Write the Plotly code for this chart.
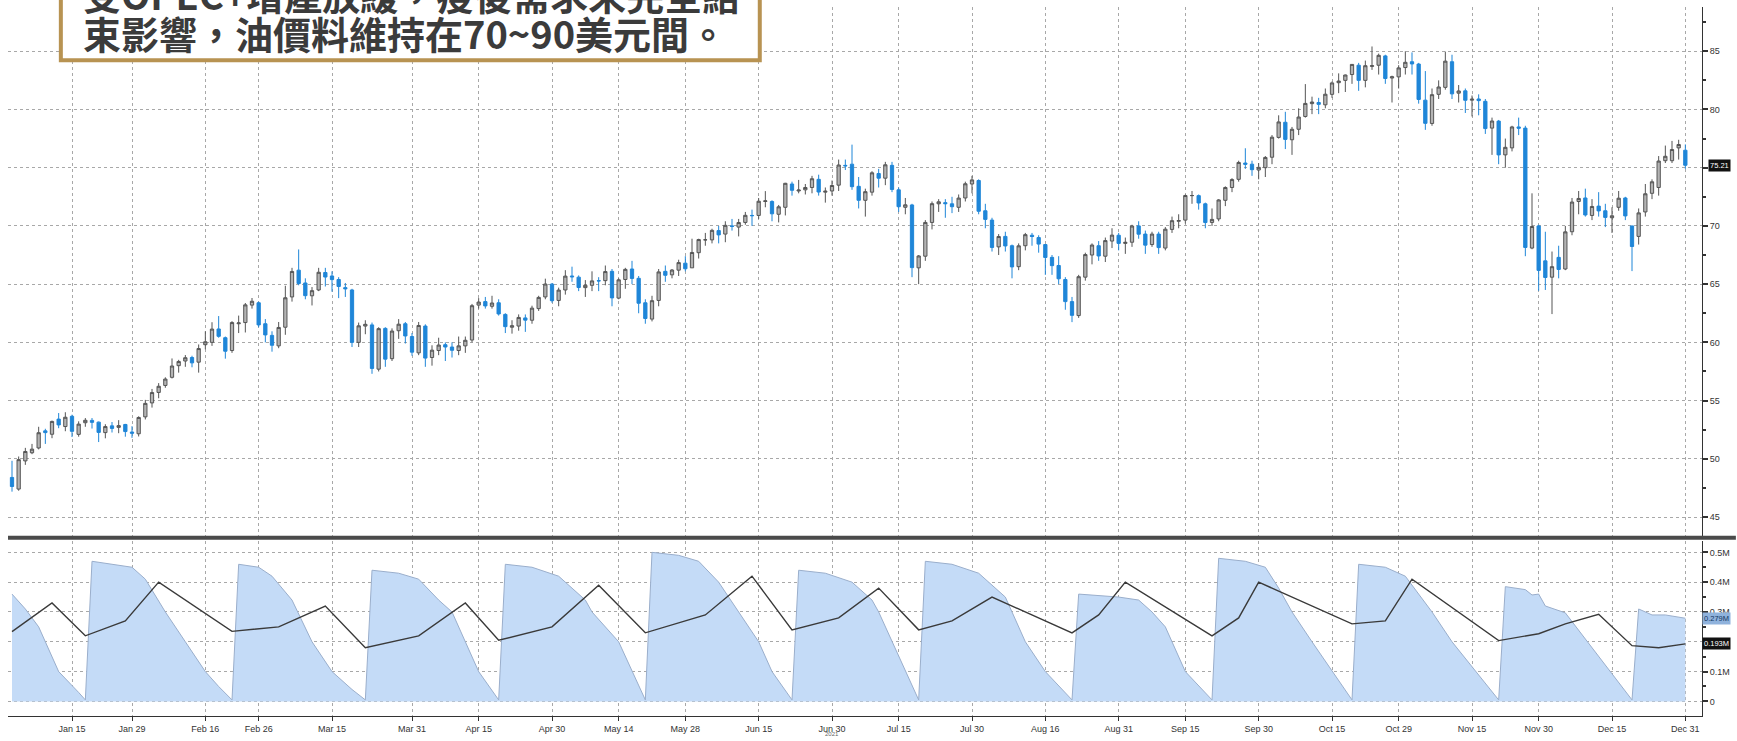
import plotly.graph_objects as go
from plotly.subplots import make_subplots

# ---------------- data ----------------
trading_days = {
    1: [4, 5, 6, 7, 8, 11, 12, 13, 14, 15, 19, 20, 21, 22, 25, 26, 27, 28, 29],
    2: [1, 2, 3, 4, 5, 8, 9, 10, 11, 12, 16, 17, 18, 19, 22, 23, 24, 25, 26],
    3: [1, 2, 3, 4, 5, 8, 9, 10, 11, 12, 15, 16, 17, 18, 19, 22, 23, 24, 25, 26, 29, 30, 31],
    4: [1, 5, 6, 7, 8, 9, 12, 13, 14, 15, 16, 19, 20, 21, 22, 23, 26, 27, 28, 29, 30],
    5: [3, 4, 5, 6, 7, 10, 11, 12, 13, 14, 17, 18, 19, 20, 21, 24, 25, 26, 27, 28],
    6: [1, 2, 3, 4, 7, 8, 9, 10, 11, 14, 15, 16, 17, 18, 21, 22, 23, 24, 25, 28, 29, 30],
    7: [1, 2, 6, 7, 8, 9, 12, 13, 14, 15, 16, 19, 20, 21, 22, 23, 26, 27, 28, 29, 30],
    8: [2, 3, 4, 5, 6, 9, 10, 11, 12, 13, 16, 17, 18, 19, 20, 23, 24, 25, 26, 27, 30, 31],
    9: [1, 2, 3, 7, 8, 9, 10, 13, 14, 15, 16, 17, 20, 21, 22, 23, 24, 27, 28, 29, 30],
    10: [1, 4, 5, 6, 7, 8, 11, 12, 13, 14, 15, 18, 19, 20, 21, 22, 25, 26, 27, 28, 29],
    11: [1, 2, 3, 4, 5, 8, 9, 10, 11, 12, 15, 16, 17, 18, 19, 22, 23, 24, 26, 29, 30],
    12: [1, 2, 3, 6, 7, 8, 9, 10, 13, 14, 15, 16, 17, 20, 21, 22, 23, 27, 28, 29, 30, 31],
}
dates = [f"2021-{m:02d}-{d:02d}" for m, days in trading_days.items() for d in days]

opens = [
    48.40, 47.40, 49.82, 50.52, 50.93, 52.40, 52.11, 53.41, 52.77, 53.65, 52.10, 53.10, 53.30, 53.15, 52.25, 52.83, 52.70, 52.95, 52.30,
    52.15, 53.60, 54.80, 55.70, 56.30, 57.00, 58.00, 58.40, 58.70, 58.30, 59.80, 60.00, 61.15, 60.40, 59.30, 61.60, 61.70, 63.20, 63.40,
    61.60, 60.60, 59.70, 61.30, 63.90, 66.20, 65.10, 64.00, 64.50, 66.00, 65.70, 65.40, 64.70, 64.50, 60.00, 61.40, 61.50, 57.70, 61.20, 58.60, 61.00, 61.60, 60.50,
    59.10, 61.40, 58.70, 59.30, 59.80, 59.60, 59.30, 59.70, 60.20, 63.20, 63.50, 63.10, 63.40, 62.40, 61.30, 61.40, 62.10, 61.90, 62.90, 63.90, 65.00,
    63.60, 64.50, 65.70, 65.60, 64.70, 64.90, 65.30, 65.30, 66.10, 63.80, 65.40, 66.30, 65.50, 63.40, 62.00, 63.60, 66.10, 65.80, 66.20, 66.80,
    66.40, 67.70, 68.80, 68.80, 69.60, 69.30, 70.00, 69.90, 70.30, 70.90, 70.90, 72.10, 72.10, 71.00, 71.60, 73.60, 73.00, 73.10, 73.30, 74.00, 72.90, 73.00,
    73.50, 75.20, 75.30, 73.40, 72.20, 72.90, 74.50, 74.10, 75.20, 73.10, 71.60, 71.80, 66.40, 67.40, 70.30, 71.90, 72.00, 71.90, 71.60, 72.40, 73.60,
    73.90, 71.30, 70.50, 68.20, 69.10, 68.30, 66.50, 68.30, 69.20, 69.00, 68.40, 67.30, 66.60, 65.40, 63.50, 62.30, 65.60, 67.50, 68.30, 67.40, 68.70, 69.20,
    68.50, 68.60, 70.00, 69.30, 68.40, 69.30, 68.10, 69.70, 70.40, 70.50, 72.60, 72.60, 71.90, 70.30, 70.60, 72.20, 73.30, 74.00, 75.40, 75.30, 74.80,
    75.00, 75.90, 77.60, 78.90, 77.40, 78.30, 79.40, 80.50, 80.60, 80.40, 81.30, 82.30, 82.50, 83.00, 83.80, 82.50, 83.70, 83.80, 84.60, 82.70, 82.80,
    83.60, 84.10, 83.90, 80.80, 78.80, 81.30, 81.90, 84.10, 81.40, 81.60, 80.80, 80.90, 80.70, 78.40, 79.00, 76.10, 76.70, 78.50, 78.40, 68.10, 70.00,
    67.00, 65.60, 67.30, 66.30, 69.50, 72.10, 72.40, 70.90, 71.70, 71.30, 70.70, 71.60, 72.40, 70.00, 69.10, 71.20, 72.80, 73.30, 75.60, 75.60, 76.70, 76.50,
]
highs = [
    49.83, 50.20, 50.94, 51.28, 52.75, 52.58, 53.28, 53.93, 54.00, 53.79, 53.22, 53.50, 53.50, 53.20, 52.97, 53.16, 53.32, 53.00, 52.80,
    53.65, 55.06, 56.00, 56.50, 57.00, 58.62, 58.50, 58.91, 58.85, 59.82, 60.95, 61.73, 62.26, 60.50, 61.82, 62.30, 63.38, 63.81, 63.50,
    62.00, 60.95, 61.75, 64.86, 66.40, 67.98, 65.50, 64.75, 66.40, 66.40, 66.10, 65.60, 65.10, 64.60, 61.70, 61.90, 61.70, 61.30, 61.30, 61.20, 62.00, 61.75, 60.80,
    61.75, 61.55, 59.75, 60.40, 60.00, 60.00, 60.50, 60.50, 63.30, 63.80, 63.90, 64.00, 63.70, 62.50, 61.90, 62.40, 62.40, 63.15, 64.00, 65.47, 65.10,
    64.70, 66.20, 66.50, 65.75, 65.35, 66.10, 65.60, 66.60, 66.30, 65.50, 66.40, 67.00, 65.70, 63.70, 64.00, 66.30, 66.60, 66.30, 67.10, 67.40,
    68.90, 68.90, 69.40, 69.76, 70.00, 70.40, 70.60, 70.60, 71.20, 71.40, 72.40, 72.99, 72.20, 71.80, 73.70, 73.80, 73.95, 73.60, 74.30, 74.40, 73.30, 73.90,
    75.70, 75.70, 76.98, 74.20, 73.20, 74.70, 74.90, 75.50, 75.50, 73.30, 72.40, 71.90, 67.50, 70.50, 72.10, 72.30, 72.30, 72.50, 72.70, 73.80, 74.30,
    74.00, 71.90, 70.70, 69.30, 69.50, 68.40, 68.50, 69.40, 69.40, 69.20, 68.40, 67.50, 67.40, 65.60, 63.90, 65.80, 67.70, 68.50, 68.70, 69.00, 69.80, 69.40,
    69.00, 70.10, 70.40, 69.60, 69.50, 69.50, 69.90, 70.80, 71.00, 72.70, 73.00, 72.70, 72.00, 71.50, 72.30, 73.40, 74.10, 75.60, 76.67, 75.60, 75.40,
    76.00, 77.80, 79.50, 79.80, 78.50, 80.10, 82.18, 81.10, 81.00, 81.80, 82.40, 83.10, 83.00, 83.90, 84.00, 84.20, 85.41, 84.80, 84.70, 82.90, 83.80,
    85.00, 84.90, 84.00, 83.30, 81.80, 82.50, 84.97, 84.70, 82.10, 81.80, 81.20, 81.30, 80.90, 79.30, 79.10, 77.50, 78.60, 79.30, 78.60, 72.80, 70.10,
    69.50, 67.80, 68.30, 70.00, 72.40, 73.00, 73.20, 72.30, 72.90, 71.90, 71.60, 73.00, 72.50, 70.00, 71.50, 73.60, 74.00, 76.00, 76.90, 77.30, 77.40, 77.00,
]
lows = [
    47.18, 47.26, 49.48, 50.40, 50.81, 51.28, 51.77, 52.63, 52.37, 51.87, 51.90, 52.75, 52.60, 51.44, 51.76, 52.26, 52.20, 51.90, 51.80,
    51.92, 53.38, 54.40, 55.20, 56.10, 56.90, 57.40, 57.90, 57.86, 57.40, 59.40, 59.70, 60.40, 58.60, 59.10, 60.80, 60.85, 62.90, 61.30,
    60.00, 59.20, 59.50, 60.65, 63.50, 64.90, 63.70, 63.17, 64.40, 64.80, 64.35, 63.80, 63.90, 59.60, 59.60, 60.70, 57.30, 57.50, 57.90, 58.40, 60.30, 59.90, 58.85,
    58.90, 57.90, 58.00, 58.90, 58.40, 58.70, 58.90, 59.10, 60.00, 62.90, 62.90, 62.90, 62.30, 60.80, 60.75, 61.00, 60.90, 61.60, 62.70, 63.70, 63.40,
    63.10, 64.10, 65.20, 64.40, 63.90, 64.40, 64.40, 64.90, 63.10, 63.70, 64.60, 65.00, 62.50, 61.60, 61.80, 63.10, 65.20, 65.50, 65.70, 66.10,
    66.40, 67.20, 68.30, 68.50, 68.50, 68.60, 69.60, 69.10, 70.10, 70.00, 70.60, 71.60, 70.40, 70.30, 70.90, 72.60, 72.80, 72.70, 72.80, 72.60, 72.00, 72.60,
    73.00, 74.80, 73.10, 71.50, 70.80, 72.60, 73.30, 73.50, 72.90, 71.20, 71.00, 65.60, 65.00, 67.00, 69.70, 71.20, 70.70, 71.10, 71.20, 72.10, 72.80,
    71.00, 69.80, 67.80, 67.50, 67.80, 65.50, 66.20, 67.90, 68.30, 67.70, 65.80, 65.80, 65.00, 62.80, 61.74, 62.10, 65.30, 66.70, 67.00, 66.90, 68.10, 67.90,
    67.60, 68.20, 68.90, 67.60, 68.20, 67.60, 67.90, 69.40, 69.80, 70.20, 71.90, 71.40, 69.80, 70.00, 70.40, 71.70, 72.90, 73.80, 74.90, 74.30, 74.00,
    74.20, 75.30, 77.50, 76.60, 76.10, 77.80, 79.30, 79.60, 79.60, 80.10, 81.00, 81.40, 81.50, 82.20, 81.60, 81.90, 83.40, 83.00, 82.20, 80.60, 81.80,
    83.00, 83.00, 80.50, 78.25, 78.60, 80.90, 81.70, 80.90, 80.60, 79.70, 79.40, 79.50, 77.90, 76.10, 75.30, 75.00, 76.40, 77.80, 67.40, 68.00, 64.43,
    64.50, 62.43, 65.50, 66.20, 69.20, 71.00, 70.80, 70.50, 70.80, 69.90, 69.40, 71.30, 70.50, 66.12, 68.40, 70.80, 72.30, 72.60, 75.40, 75.40, 75.70, 74.90,
]
closes = [
    47.62, 49.93, 50.63, 50.83, 52.24, 52.25, 53.21, 52.91, 53.57, 52.36, 52.98, 53.31, 53.13, 52.27, 52.77, 52.61, 52.85, 52.34, 52.20,
    53.55, 54.76, 55.69, 56.23, 56.85, 57.97, 58.36, 58.68, 58.24, 59.47, 60.05, 61.14, 60.52, 59.24, 61.70, 61.67, 63.22, 63.53, 61.50,
    60.64, 59.75, 61.28, 63.83, 66.09, 65.05, 64.01, 64.44, 66.02, 65.61, 65.39, 64.80, 64.60, 60.00, 61.42, 61.55, 57.76, 61.18, 58.56, 60.97, 61.56, 60.55, 59.16,
    61.45, 58.65, 59.33, 59.77, 59.60, 59.32, 59.70, 60.18, 63.15, 63.46, 63.13, 63.38, 62.44, 61.35, 61.43, 62.14, 61.91, 62.94, 63.86, 65.01, 63.58,
    64.49, 65.69, 65.63, 64.71, 64.90, 65.28, 65.28, 66.08, 63.82, 65.37, 66.27, 65.49, 63.36, 62.05, 63.58, 66.05, 65.76, 66.21, 66.85, 66.32,
    67.72, 68.83, 68.81, 69.62, 69.23, 70.05, 69.96, 70.29, 70.91, 70.88, 72.12, 72.15, 71.04, 71.64, 73.66, 73.06, 73.08, 73.30, 74.05, 72.91, 72.98, 73.47,
    75.23, 75.16, 73.37, 72.20, 72.94, 74.56, 74.10, 75.25, 73.13, 71.65, 71.81, 66.42, 67.42, 70.30, 71.91, 72.07, 71.91, 71.65, 72.39, 73.62, 73.95,
    71.26, 70.56, 68.15, 69.09, 68.28, 66.48, 68.29, 69.25, 69.09, 68.44, 67.29, 66.59, 65.46, 63.50, 62.32, 65.64, 67.54, 68.36, 67.42, 68.74, 69.21, 68.50,
    68.59, 69.99, 69.29, 68.35, 69.30, 68.14, 69.72, 70.45, 70.46, 72.61, 72.61, 71.97, 70.29, 70.56, 72.23, 73.30, 73.98, 75.45, 75.29, 74.83, 75.03,
    75.88, 77.62, 78.93, 77.43, 78.30, 79.35, 80.52, 80.64, 80.44, 81.31, 82.28, 82.44, 82.96, 83.87, 82.50, 83.76, 83.76, 84.65, 82.66, 82.81, 83.57,
    84.05, 83.91, 80.86, 78.81, 81.27, 81.93, 84.15, 81.34, 81.59, 80.79, 80.88, 80.76, 78.36, 79.01, 76.10, 76.75, 78.50, 78.39, 68.15, 69.95, 66.18,
    65.57, 66.50, 66.26, 69.49, 72.05, 72.36, 70.94, 71.67, 71.29, 70.73, 70.87, 72.38, 70.86, 68.23, 71.12, 72.76, 73.79, 75.57, 75.98, 76.56, 76.99, 75.21,
]

# lower panel: front-contract open interest (millions) and its average line
oi_dates = [
    "2021-01-04", "2021-01-06", "2021-01-08", "2021-01-13", "2021-01-19", "2021-01-20",
    "2021-01-21", "2021-01-26", "2021-01-29", "2021-02-02", "2021-02-05", "2021-02-10", "2021-02-16", "2021-02-18", "2021-02-22",
    "2021-02-23", "2021-02-26", "2021-03-02", "2021-03-05", "2021-03-10", "2021-03-15", "2021-03-18", "2021-03-22",
    "2021-03-23", "2021-03-29", "2021-04-01", "2021-04-07", "2021-04-09", "2021-04-15", "2021-04-20",
    "2021-04-21", "2021-04-27", "2021-05-03", "2021-05-07", "2021-05-10", "2021-05-14", "2021-05-18", "2021-05-20",
    "2021-05-21", "2021-05-27", "2021-06-02", "2021-06-07", "2021-06-10", "2021-06-15", "2021-06-17", "2021-06-22",
    "2021-06-23", "2021-06-29", "2021-07-06", "2021-07-09", "2021-07-12", "2021-07-14", "2021-07-16", "2021-07-20",
    "2021-07-21", "2021-07-27", "2021-08-02", "2021-08-06", "2021-08-09", "2021-08-11", "2021-08-16", "2021-08-20",
    "2021-08-23", "2021-08-31", "2021-09-03", "2021-09-08", "2021-09-10", "2021-09-15", "2021-09-21",
    "2021-09-22", "2021-09-28", "2021-10-01", "2021-10-05", "2021-10-07", "2021-10-12", "2021-10-20",
    "2021-10-21", "2021-10-27", "2021-11-01", "2021-11-03", "2021-11-05", "2021-11-10", "2021-11-19",
    "2021-11-22", "2021-11-26", "2021-11-29", "2021-11-30", "2021-12-01", "2021-12-06", "2021-12-20",
    "2021-12-21", "2021-12-23", "2021-12-28", "2021-12-31",
]
oi_values = [
    0.36, 0.31, 0.25, 0.10, 0.03, 0.005,
    0.47, 0.46, 0.45, 0.41, 0.30, 0.20, 0.10, 0.05, 0.005,
    0.46, 0.45, 0.42, 0.34, 0.20, 0.10, 0.04, 0.005,
    0.44, 0.43, 0.41, 0.34, 0.30, 0.10, 0.005,
    0.46, 0.45, 0.42, 0.34, 0.30, 0.20, 0.10, 0.005,
    0.50, 0.49, 0.47, 0.40, 0.30, 0.20, 0.10, 0.005,
    0.44, 0.43, 0.40, 0.34, 0.30, 0.20, 0.10, 0.005,
    0.47, 0.46, 0.43, 0.35, 0.30, 0.20, 0.10, 0.005,
    0.36, 0.35, 0.34, 0.30, 0.25, 0.10, 0.005,
    0.48, 0.47, 0.45, 0.38, 0.30, 0.20, 0.005,
    0.46, 0.45, 0.42, 0.36, 0.30, 0.20, 0.005,
    0.385, 0.375, 0.357, 0.36, 0.32, 0.297, 0.005,
    0.31, 0.29, 0.29, 0.279,
]
avg_dates = [
    "2021-01-04", "2021-01-12", "2021-01-20", "2021-01-28", "2021-02-04", "2021-02-22",
    "2021-03-03", "2021-03-12", "2021-03-22", "2021-04-01", "2021-04-13", "2021-04-20",
    "2021-04-30", "2021-05-11", "2021-05-20", "2021-06-03", "2021-06-14", "2021-06-22",
    "2021-07-01", "2021-07-12", "2021-07-20", "2021-07-27", "2021-08-04", "2021-08-20",
    "2021-08-26", "2021-09-01", "2021-09-21", "2021-09-27", "2021-09-30", "2021-10-20",
    "2021-10-27", "2021-11-02", "2021-11-19", "2021-11-30", "2021-12-06", "2021-12-13",
    "2021-12-20", "2021-12-27", "2021-12-31",
]
avg_values = [
    0.234, 0.33, 0.22, 0.27, 0.40, 0.235,
    0.25, 0.32, 0.18, 0.22, 0.33, 0.205,
    0.25, 0.39, 0.23, 0.29, 0.42, 0.24,
    0.28, 0.38, 0.24, 0.27, 0.35, 0.23,
    0.29, 0.40, 0.22, 0.28, 0.40, 0.26,
    0.27, 0.41, 0.204, 0.227, 0.26, 0.292,
    0.187, 0.18, 0.193,
]

tick_dates = [
    "2021-01-15", "2021-01-29", "2021-02-16", "2021-02-26", "2021-03-15", "2021-03-31",
    "2021-04-15", "2021-04-30", "2021-05-14", "2021-05-28", "2021-06-15", "2021-06-30",
    "2021-07-15", "2021-07-30", "2021-08-16", "2021-08-31", "2021-09-15", "2021-09-30",
    "2021-10-15", "2021-10-29", "2021-11-15", "2021-11-30", "2021-12-15", "2021-12-31",
]
tick_text = [
    "Jan 15", "Jan 29", "Feb 16", "Feb 26", "Mar 15", "Mar 31", "Apr 15", "Apr 30",
    "May 14", "May 28", "Jun 15", "Jun 30", "Jul 15", "Jul 30", "Aug 16", "Aug 31",
    "Sep 15", "Sep 30", "Oct 15", "Oct 29", "Nov 15", "Nov 30", "Dec 15", "Dec 31",
]
price_ticks = [45, 50, 55, 60, 65, 70, 75, 80, 85]
price_tick_text = ["45", "50", "55", "60", "65", "70", "", "80", "85"]  # 75 hidden behind last-price tag
oi_ticks = [0, 0.1, 0.2, 0.3, 0.4, 0.5]
oi_tick_text = ["0", "0.1M", "", "0.3M", "0.4M", "0.5M"]  # 0.2M hidden behind tag

headline = ["受OPEC+增產放緩，疫後需求未完全結", "束影響，油價料維持在70~90美元間。"]

# ---------------- figure ----------------
W, H = 1737, 741
ML, MR, MT, MB = 8, 30, 7, 14
PW, PH = W - ML - MR, H - MT - MB
GRID = "#a8a8a8"
AXC = "#333333"
FONT = "Liberation Sans"


def px_x(px):
    return (px - ML) / PW


def px_y(py):
    return 1 - (py - MT) / PH


fig = make_subplots(rows=2, cols=1, shared_xaxes=True, vertical_spacing=0.004)

fig.add_trace(go.Candlestick(
    x=dates, open=opens, high=highs, low=lows, close=closes,
    increasing=dict(line=dict(color="#555555", width=1), fillcolor="#b4b4b4"),
    decreasing=dict(line=dict(color="#1f86d8", width=1), fillcolor="#1f86d8"),
    whiskerwidth=0, showlegend=False, hoverinfo="skip",
), row=1, col=1)

fig.add_trace(go.Scatter(
    x=oi_dates, y=oi_values, mode="lines", fill="tozeroy",
    line=dict(color="#9aaecb", width=1), fillcolor="#c4dbf7",
    showlegend=False, hoverinfo="skip",
), row=2, col=1)
fig.add_trace(go.Scatter(
    x=avg_dates, y=avg_values, mode="lines",
    line=dict(color="#3a3a3a", width=1.4),
    showlegend=False, hoverinfo="skip",
), row=2, col=1)

xcommon = dict(
    type="category", categoryorder="array", categoryarray=dates,
    range=[-0.6, len(dates) + 1.5],
    tickmode="array", tickvals=tick_dates, ticktext=tick_text,
    showgrid=True, gridcolor=GRID, griddash="dot", gridwidth=1,
    zeroline=False, rangeslider=dict(visible=False),
)
fig.update_xaxes(**xcommon)
fig.update_xaxes(showticklabels=False, ticks="", row=1, col=1)
fig.update_xaxes(showticklabels=True, ticks="outside", ticklen=4, tickcolor=AXC,
                 showline=True, linecolor=AXC, linewidth=1,
                 tickfont=dict(family=FONT, size=9, color="#333333"), row=2, col=1)

fig.update_layout(
    yaxis=dict(domain=[px_y(546), 1.0], range=[43.22, 88.8], side="right",
               tickmode="array", tickvals=price_ticks, ticktext=price_tick_text,
               showgrid=True, gridcolor=GRID, griddash="dot", gridwidth=1,
               showline=True, linecolor=AXC, linewidth=1, ticks="outside", ticklen=5,
               tickcolor=AXC, tickwidth=2, zeroline=False,
               minor=dict(dtick=2.5, ticks="outside", ticklen=3, tickcolor=AXC, showgrid=False),
               tickfont=dict(family=FONT, size=9, color="#333333")),
    yaxis2=dict(domain=[0.0, px_y(549)], range=[-0.049, 0.539], side="right",
                tickmode="array", tickvals=oi_ticks, ticktext=oi_tick_text,
                showgrid=True, gridcolor=GRID, griddash="dot", gridwidth=1,
                showline=True, linecolor=AXC, linewidth=1, ticks="outside", ticklen=5,
                tickcolor=AXC, tickwidth=2, zeroline=False,
                minor=dict(dtick=0.05, ticks="outside", ticklen=3, tickcolor=AXC, showgrid=False),
                tickfont=dict(family=FONT, size=9, color="#333333")),
    width=W, height=H,
    margin=dict(l=ML, r=MR, t=MT, b=MB, pad=0),
    paper_bgcolor="white", plot_bgcolor="white",
    showlegend=False,
)

# separator between panels
fig.add_shape(type="line", xref="paper", yref="paper",
              x0=0.0, x1=1.02, y0=px_y(546), y1=px_y(546),
              line=dict(color="#4a4a4a", width=4))

# last-value tags (right-aligned to the picture edge)
TAGFONT = dict(family=FONT, size=7.5)
tag_x = px_x(1736)
fig.add_annotation(xref="paper", yref="y", x=tag_x, y=closes[-1], xanchor="right", yanchor="middle",
                   text=f"{closes[-1]:.2f}", showarrow=False, bgcolor="#111111",
                   font=dict(TAGFONT, color="white"), borderpad=1)
fig.add_annotation(xref="paper", yref="y2", x=tag_x, y=oi_values[-1], xanchor="right", yanchor="middle",
                   text=f"{oi_values[-1]:.3f}M", showarrow=False, bgcolor="#8fb2dc",
                   font=dict(TAGFONT, color="#12345e"), borderpad=1)
fig.add_annotation(xref="paper", yref="y2", x=tag_x, y=avg_values[-1], xanchor="right", yanchor="middle",
                   text=f"{avg_values[-1]:.3f}M", showarrow=False, bgcolor="#111111",
                   font=dict(TAGFONT, color="white"), borderpad=1)
fig.add_annotation(xref="x2", yref="paper", x="2021-06-30", y=px_y(740),
                   xanchor="center", yanchor="top", text="2021", showarrow=False,
                   font=dict(family=FONT, size=6, color="#666666"))

# headline box (its first line runs past the top edge, as in the source)
fig.add_shape(type="rect", xref="paper", yref="paper",
              x0=px_x(61), x1=px_x(762), y0=px_y(61), y1=px_y(-20),
              line=dict(color="#b89352", width=4), fillcolor="white", layer="above")
for i, line in enumerate(headline):
    fig.add_annotation(xref="paper", yref="paper", x=px_x(81), y=px_y(-7 + 40 * i),
                       xanchor="left", yanchor="middle", align="left",
                       text=line, showarrow=False,
                       font=dict(family="Noto Sans CJK TC", size=38, color="#3b3b3b", weight="bold"))

# page body margin removed so the figure sits at the window's top-left corner
fig.write_html("out.html", config={"displayModeBar": False},
               post_script="document.body.style.margin='0';")
